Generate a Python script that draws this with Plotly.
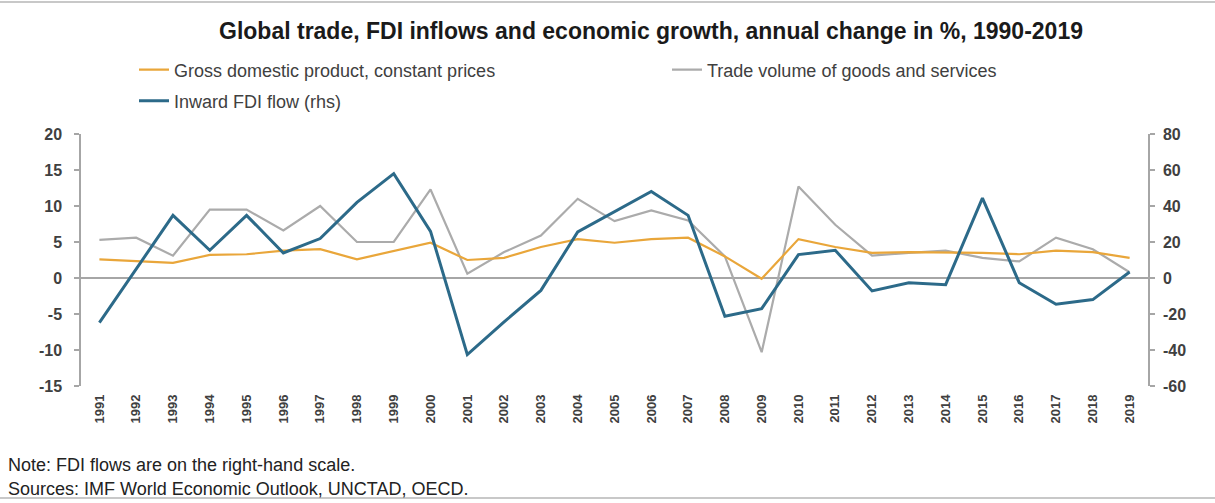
import plotly.graph_objects as go

years = [str(y) for y in range(1991, 2020)]

gdp = [2.6, 2.3, 2.1, 3.2, 3.3, 3.8, 4.0, 2.6, 3.7, 4.9, 2.5, 2.8, 4.3, 5.4, 4.9,
       5.4, 5.6, 3.0, -0.1, 5.4, 4.3, 3.5, 3.6, 3.6, 3.5, 3.3, 3.8, 3.6, 2.8]

trade = [5.3, 5.6, 3.1, 9.5, 9.5, 6.6, 10.0, 5.0, 5.0, 12.3, 0.6, 3.6, 5.9, 11.0, 7.9,
         9.4, 8.0, 3.0, -10.3, 12.7, 7.4, 3.1, 3.5, 3.8, 2.8, 2.3, 5.6, 4.0, 0.8]

fdi = [-24.8, 5.0, 34.8, 15.4, 34.8, 13.9, 21.9, 42.0, 58.0, 25.9, -42.6, -24.4, -6.9, 25.6, 37.0,
       48.1, 34.8, -21.3, -17.0, 13.0, 15.4, -7.2, -2.6, -3.7, 44.4, -2.6, -14.6, -12.0, 3.3]

left_ticks = [-15, -10, -5, 0, 5, 10, 15, 20]
right_ticks = [-60, -40, -20, 0, 20, 40, 60, 80]

title_text = "Global trade, FDI inflows and economic growth, annual change in %, 1990-2019"
note_lines = ["Note: FDI flows are on the right-hand scale.",
              "Sources: IMF World Economic Outlook, UNCTAD, OECD."]

C_GDP = "#E9A63A"
C_TRADE = "#ABABAB"
C_FDI = "#2C6A89"
AX = "#A6A6A6"
FONT = "Liberation Sans, Arial, sans-serif"

fig = go.Figure()
fig.add_trace(go.Scatter(x=years, y=trade, mode="lines", name="Trade volume of goods and services",
                         line=dict(color=C_TRADE, width=2.2), legend="legend", legendrank=2))
fig.add_trace(go.Scatter(x=years, y=gdp, mode="lines", name="Gross domestic product, constant prices",
                         line=dict(color=C_GDP, width=2.2), legend="legend", legendrank=1))
fig.add_trace(go.Scatter(x=years, y=fdi, mode="lines", name="Inward FDI flow (rhs)",
                         line=dict(color=C_FDI, width=3), yaxis="y2", legend="legend2"))

W, H = 1215, 503
L, R, T, B = 81, 67, 134, 117
pw, ph = W - L - R, H - T - B

def px(x):
    return (x - L) / pw

def py(y):
    return (H - B - y) / ph

fig.update_layout(
    width=W, height=H,
    margin=dict(l=L, r=R, t=T, b=B),
    paper_bgcolor="white", plot_bgcolor="white",
    font=dict(family=FONT, color="#333333"),
    title=dict(text=title_text, x=651 / W, xanchor="center",
               y=1 - 31 / H, yanchor="middle",
               font=dict(size=23, color="#1a1a1a", weight="bold")),
    xaxis=dict(type="category", range=[-0.5, len(years) - 0.5], showline=False, showgrid=False,
               ticks="", tickangle=-90, zeroline=False, ticklabelstandoff=5,
               tickfont=dict(size=13, color="#404040", weight="bold")),
    yaxis=dict(range=[-15, 20], tickvals=left_ticks, ticktext=[str(v) for v in left_ticks],
               showgrid=False, showline=True, linecolor=AX,
               linewidth=1.5, ticks="outside", ticklen=5, tickcolor=AX, tickwidth=1.5,
               zeroline=True, zerolinecolor=AX, zerolinewidth=1.5, ticklabelstandoff=9,
               tickfont=dict(size=16, color="#404040", weight="bold")),
    yaxis2=dict(range=[-60, 80], tickvals=right_ticks, ticktext=[str(v) for v in right_ticks],
                overlaying="y", side="right", showgrid=False,
                showline=True, linecolor=AX, linewidth=1.5, ticks="outside", ticklen=5, tickcolor=AX,
                tickwidth=1.5, zeroline=False, ticklabelstandoff=5,
                tickfont=dict(size=16, color="#404040", weight="bold")),
    legend=dict(orientation="h", x=px(134), xanchor="left", y=py(70), yanchor="middle",
                entrywidth=488, entrywidthmode="pixels", font=dict(size=18, color="#404040"),
                bgcolor="rgba(0,0,0,0)", traceorder="normal"),
    legend2=dict(orientation="h", x=px(134), xanchor="left", y=py(101), yanchor="middle",
                 font=dict(size=18, color="#404040"), bgcolor="rgba(0,0,0,0)"),
    showlegend=True,
)

for i, txt in enumerate(note_lines):
    fig.add_annotation(text=txt, xref="paper", yref="paper", x=px(6), y=py(465 + 24 * i),
                       xanchor="left", yanchor="middle", showarrow=False,
                       font=dict(size=18, color="#222222"))

for yy in (2, 498):
    fig.add_shape(type="line", xref="paper", yref="paper", x0=px(0), x1=px(W), y0=py(yy), y1=py(yy),
                  line=dict(color="#C8C8C8", width=2))

fig.write_html("out.html", config={"displayModeBar": False},
               post_script="document.body.style.margin='0';")
